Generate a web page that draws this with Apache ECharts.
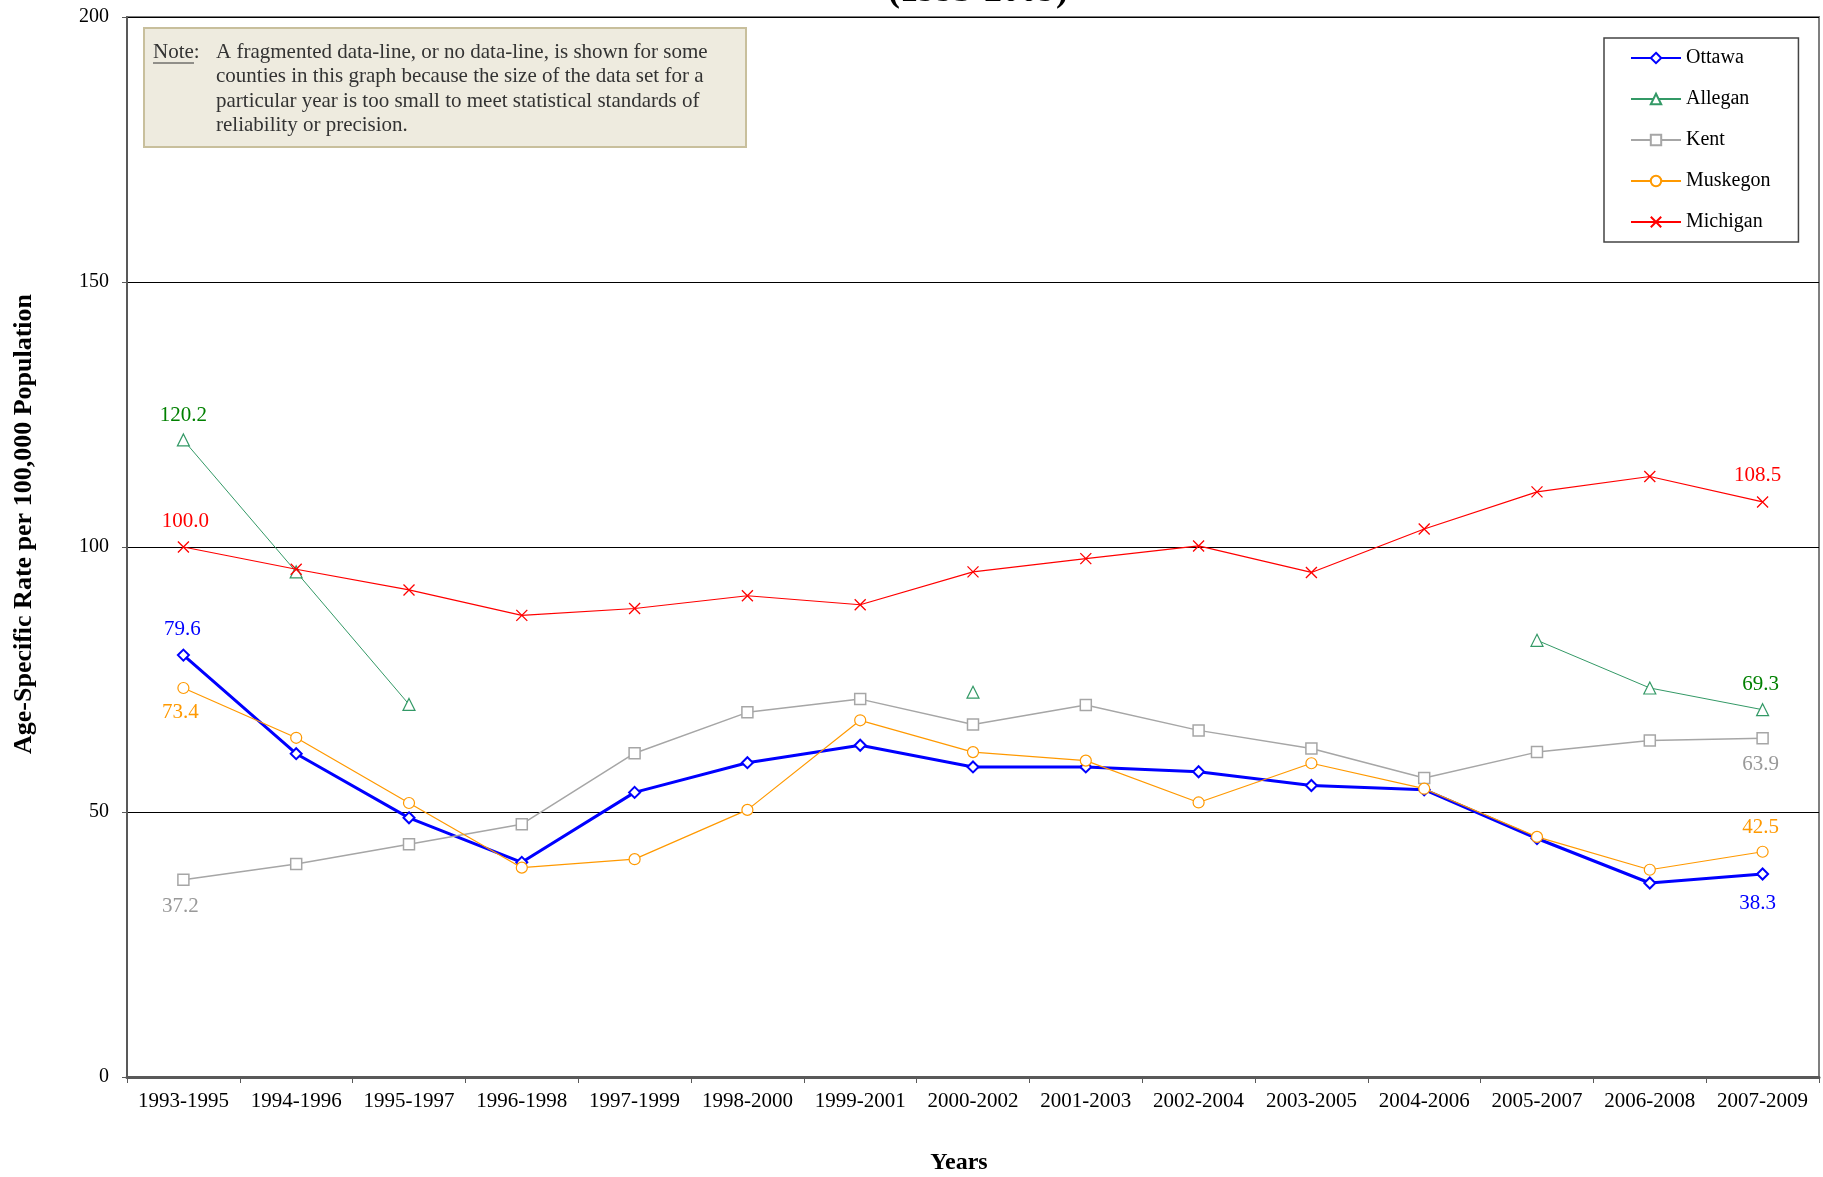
<!DOCTYPE html>
<html>
<head>
<meta charset="utf-8">
<title>Age-Specific Rate per 100,000 Population (1993-2009)</title>
<script src="https://cdn.jsdelivr.net/npm/echarts@6/dist/echarts.min.js"></script>
<style>
  html, body { margin: 0; padding: 0; background: #fff; }
  #chart { width: 1823px; height: 1177px; }
</style>
</head>
<body>
<div id="chart"></div>
<script>
// Three-year rolling periods
const periods = ['1993-1995', '1994-1996', '1995-1997', '1996-1998', '1997-1999',
  '1998-2000', '1999-2001', '2000-2002', '2001-2003', '2002-2004', '2003-2005',
  '2004-2006', '2005-2007', '2006-2008', '2007-2009'];

// Rates per 100,000 (null = data set too small to report)
const ottawa   = [79.6, 61.0, 48.9, 40.5, 53.7, 59.3, 62.6, 58.5, 58.5, 57.6, 55.0, 54.2, 45.0, 36.6, 38.3];
const allegan  = [120.2, 95.3, 70.3, null, null, null, null, 72.6, null, null, null, null, 82.4, 73.4, 69.3];
const kent     = [37.2, 40.2, 43.9, 47.7, 61.1, 68.8, 71.3, 66.5, 70.2, 65.4, 62.0, 56.4, 61.3, 63.5, 63.9];
const muskegon = [73.4, 64.0, 51.7, 39.5, 41.1, 50.4, 67.3, 61.3, 59.7, 51.8, 59.2, 54.4, 45.3, 39.1, 42.5];
const michigan = [100.0, 95.8, 91.9, 87.1, 88.4, 90.8, 89.1, 95.3, 97.8, 100.2, 95.2, 103.4, 110.4, 113.3, 108.5];

const yTicks = [0, 50, 100, 150, 200];

const noteLines = [
  'A fragmented data-line, or no data-line, is shown for some',
  'counties in this graph because the size of the data set for a',
  'particular year is too small to meet statistical standards of',
  'reliability or precision.'
];

const SERIF = '"Liberation Serif", "Times New Roman", serif';

// Attach end-point value labels to the first and last points of a series
function withEndLabels(values, color, firstPos, lastPos, firstDx, lastDx, firstDist, lastDist) {
  const last = values.length - 1;
  return values.map((v, i) => {
    if (v === null) return null;
    if (i !== 0 && i !== last) return v;
    const first = i === 0;
    return {
      value: v,
      label: {
        show: true,
        position: first ? firstPos : lastPos,
        distance: first ? firstDist : lastDist,
        offset: [first ? firstDx : lastDx, 0],
        color: color,
        fontFamily: SERIF,
        fontSize: 21,
        formatter: p => Number(p.value).toFixed(1)
      }
    };
  });
}

function lineSeries(name, values, opts) {
  return {
    name: name,
    type: 'line',
    data: values,
    connectNulls: false,
    showSymbol: true,
    showAllSymbol: true,
    symbol: opts.symbol,
    symbolSize: opts.size,
    lineStyle: { color: opts.color, width: opts.width },
    itemStyle: { color: opts.fill, borderColor: opts.color, borderWidth: opts.border },
    emphasis: { disabled: true },
    z: opts.z
  };
}

const chart = echarts.init(document.getElementById('chart'), null, { renderer: 'canvas' });

const option = {
  animation: false,
  backgroundColor: '#ffffff',
  textStyle: { fontFamily: SERIF },
  grid: {
    left: 127, right: 4, top: 17, bottom: 100,
    outerBoundsMode: 'none',
    containLabel: false,
    show: true,
    borderColor: '#7f7f7f',
    borderWidth: 2,
    backgroundColor: 'transparent'
  },
  legend: {
    orient: 'vertical',
    left: 1604,
    top: 38,
    padding: [10, 28, 10, 26],
    itemGap: 21,
    itemWidth: 50,
    itemHeight: 13,
    backgroundColor: '#ffffff',
    borderColor: '#444',
    borderWidth: 1.5,
    textStyle: { fontFamily: SERIF, fontSize: 20, color: '#000' },
    data: ['Ottawa', 'Allegan', 'Kent', 'Muskegon', 'Michigan']
  },
  xAxis: {
    type: 'category',
    data: periods,
    boundaryGap: true,
    name: 'Years',
    nameLocation: 'middle',
    nameGap: 74,
    nameTextStyle: { fontFamily: SERIF, fontSize: 24, fontWeight: 'bold', color: '#000', padding: [0, 28, 0, 0] },
    axisLine: { lineStyle: { color: '#595959', width: 3 } },
    axisTick: { show: true, alignWithLabel: false, length: 6, lineStyle: { color: '#595959', width: 1 } },
    axisLabel: { fontFamily: SERIF, fontSize: 21, color: '#000', margin: 14, interval: 0 },
    splitLine: { show: false }
  },
  yAxis: {
    type: 'value',
    min: yTicks[0],
    max: yTicks[yTicks.length - 1],
    interval: yTicks[1] - yTicks[0],
    axisLine: { show: true, lineStyle: { color: '#595959', width: 2 } },
    axisTick: { show: true, length: 5, lineStyle: { color: '#595959' } },
    axisLabel: { fontFamily: SERIF, fontSize: 20, color: '#000', margin: 18 },
    splitLine: { show: true, lineStyle: { color: '#000', width: 1 } }
  },
  series: [
    lineSeries('Ottawa', withEndLabels(ottawa, '#0000ff', 'top', 'bottom', -1, -5, 9, 12),
      { symbol: 'diamond', size: 11, color: '#0000ff', fill: '#ffffff', width: 3, border: 2, z: 3 }),
    lineSeries('Allegan', withEndLabels(allegan, '#008000', 'top', 'top', 0, -2, 7, 8),
      { symbol: 'triangle', size: 12, color: '#339966', fill: '#ffffff', width: 1, border: 1.2, z: 4 }),
    lineSeries('Kent', withEndLabels(kent, '#999999', 'bottom', 'bottom', -3, -2, 10, 9),
      { symbol: 'rect', size: 11, color: '#a6a6a6', fill: '#ffffff', width: 1.5, border: 1.5, z: 5 }),
    lineSeries('Muskegon', withEndLabels(muskegon, '#ff9900', 'bottom', 'top', -3, -2, 8, 8),
      { symbol: 'circle', size: 11, color: '#ff9900', fill: '#ffffff', width: 1.2, border: 1.2, z: 6 }),
    lineSeries('Michigan', withEndLabels(michigan, '#ff0000', 'top', 'top', 2, -5, 9, 10),
      { symbol: 'path://M0,0L10,10M0,10L10,0', size: 11, color: '#ff0000', fill: '#ff0000', width: 1.2, border: 1.3, z: 7 })
  ],
  graphic: [
    // Title line, partly above the canvas edge
    {
      type: 'text',
      x: 978,
      y: -8,
      style: {
        text: '(1993-2009)',
        fill: '#000',
        font: 'bold 36px ' + SERIF,
        align: 'center',
        verticalAlign: 'middle'
      },
      z: 10
    },
    // Vertical axis title
    {
      type: 'text',
      x: 24,
      y: 524,
      rotation: Math.PI / 2,
      style: {
        text: 'Age-Specific Rate per 100,000 Population',
        fill: '#000',
        font: 'bold 26px ' + SERIF,
        align: 'center',
        verticalAlign: 'middle'
      },
      z: 10
    },
    // Note box
    {
      type: 'group',
      x: 144,
      y: 28,
      z: 20,
      children: [
        {
          type: 'rect',
          shape: { x: 0, y: 0, width: 602, height: 119 },
          style: { fill: '#eeebdf', stroke: '#c8bf9c', lineWidth: 2 }
        },
        {
          type: 'text',
          x: 9, y: 24,
          style: { text: 'Note:', fill: '#333', font: '21px ' + SERIF, verticalAlign: 'middle' }
        },
        {
          type: 'line',
          shape: { x1: 9, y1: 35, x2: 50, y2: 35 },
          style: { stroke: '#333', lineWidth: 1 }
        },
        ...noteLines.map((t, i) => ({
          type: 'text',
          x: 72, y: 24 + i * 24.5,
          style: { text: t, fill: '#333', font: '21px ' + SERIF, verticalAlign: 'middle' }
        }))
      ]
    }
  ]
};

chart.setOption(option);
</script>
</body>
</html>
